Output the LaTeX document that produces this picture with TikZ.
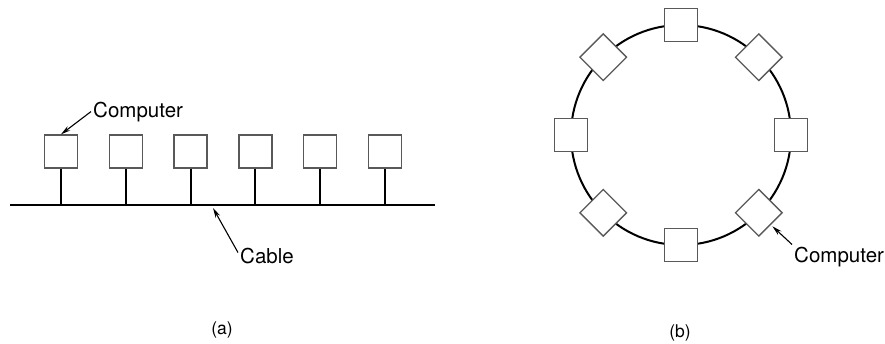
\documentclass[tikz,border=0pt]{standalone}
\usepackage{fontspec}
\setmainfont{TeX Gyre Heros}
\usetikzlibrary{arrows.meta,calc}

\tikzset{
  comp/.style={draw=black!65,line width=1.3pt,fill=white,minimum size=33pt,inner sep=0pt},
  wire/.style={line width=2pt},
  ptr/.style={line width=1.1pt,-{Stealth[length=10pt,width=5pt]}},
  lbl/.style={font=\fontsize{20.5}{24}\selectfont,inner sep=2pt},
  subcap/.style={font=\fontsize{17.5}{20}\selectfont,inner sep=0pt}
}

\begin{document}
\begin{tikzpicture}[x=1pt,y=-1pt]
\useasboundingbox (0,0) rectangle (885,343);
% (a) bus
\coordinate (cl) at (10,205);
\coordinate (cr) at (435,205);
\draw[wire] (cl) -- (cr);
\foreach \i in {0,...,5} {
  \node[comp] (a\i) at (61+64.8*\i,151.5) {};
  \draw[wire] (a\i.south) -- (a\i.south |- cl);
}
\node[lbl,anchor=base west] (acomp) at (91,117) {Computer};
\draw[ptr] (acomp.west) -- (a0.north);
\coordinate (ctip) at (213,208);
\node[lbl,anchor=base west] (acab) at (238,263) {Cable};
\draw[ptr] ([yshift=3pt]acab.west) -- (ctip);
\node[subcap] (capa) at (222,330) {(a)};
% (b) ring
\coordinate (ctr) at (681,135);
\draw[wire] (ctr) circle[radius=110pt];
\foreach \a in {0,45,...,315}
  \node[comp,rotate=\a] (b\a) at ($(ctr)+(\a:110pt)$) {};
\node[lbl,anchor=base west] (bcomp) at (792,262) {Computer};
\draw[ptr,shorten >=2pt] (bcomp.north west) -- (b315.east);
\node[subcap] (capb) at (680,333) {(b)};
\end{tikzpicture}
\end{document}
